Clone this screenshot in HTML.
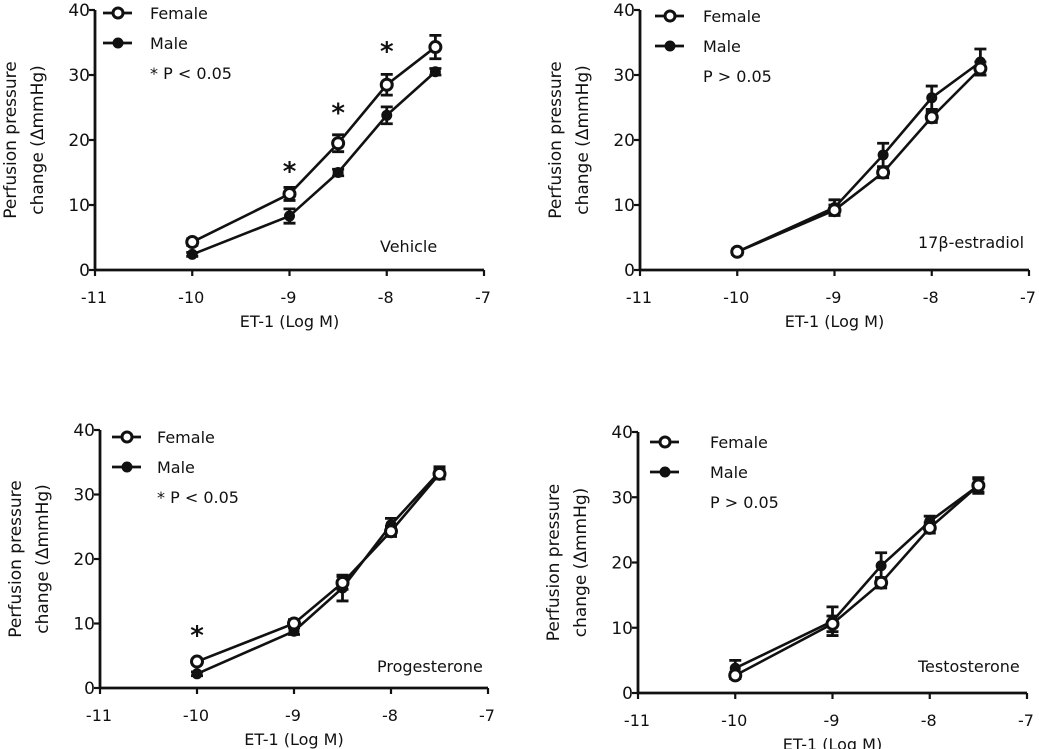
<!DOCTYPE html>
<html><head><meta charset="utf-8">
<style>
body{margin:0;background:#fff;}
svg{display:block;font-family:"DejaVu Sans","Liberation Sans",sans-serif;}
text{fill:#111;}
</style></head>
<body>
<svg id="fig" width="1039" height="749" viewBox="0 0 1039 749" xmlns="http://www.w3.org/2000/svg"></svg>
<script>
const doses = [-10, -9, -8.5, -8, -7.5];
const xTicks = [-11, -10, -9, -8, -7];
const yTicks = [0, 10, 20, 30, 40];
const vehicleFemale = [4.3, 11.7, 19.5, 28.5, 34.3];
const vehicleFemaleErr = [0.5, 1.0, 1.3, 1.6, 1.8];
const vehicleMale = [2.4, 8.3, 15.0, 23.8, 30.5];
const vehicleMaleErr = [0.3, 1.1, 0.5, 1.3, 0.5];
const vehicleStars = [null, 16, 25, 34.5, null];
const estradiolFemale = [2.8, 9.2, 15.0, 23.5, 31.0];
const estradiolFemaleErr = [0.4, 0.8, 0.8, 0.8, 1.0];
const estradiolMale = [2.8, 9.6, 17.7, 26.5, 32.0];
const estradiolMaleErr = [0.4, 1.2, 1.8, 1.8, 2.0];
const progFemale = [4.1, 10.0, 16.3, 24.3, 33.2];
const progFemaleErr = [0.4, 0.6, 1.0, 0.8, 0.8];
const progMale = [2.2, 8.8, 15.5, 25.3, 33.5];
const progMaleErr = [0.3, 0.5, 2.0, 1.0, 0.8];
const progStars = [9, null, null, null, null];
const testoFemale = [2.7, 10.6, 16.9, 25.3, 31.8];
const testoFemaleErr = [0.5, 1.2, 0.8, 0.8, 1.0];
const testoMale = [3.8, 11.0, 19.5, 26.3, 31.8];
const testoMaleErr = [1.2, 2.2, 2.0, 0.8, 1.2];

const panels = [
 {name:'vehicle', x0:95, x1:484, yTop:10, yBot:270, f:vehicleFemale, fe:vehicleFemaleErr, m:vehicleMale, me:vehicleMaleErr, stars:vehicleStars, stat:'* P < 0.05', label:'Vehicle', lx:380, ly:252, legX:103, legTX:150, legY:13},
 {name:'estradiol', x0:640, x1:1029, yTop:10, yBot:270, f:estradiolFemale, fe:estradiolFemaleErr, m:estradiolMale, me:estradiolMaleErr, stars:null, stat:'P > 0.05', label:'17\u03B2-estradiol', lx:918, ly:248, legX:655, legTX:703, legY:16},
 {name:'progesterone', x0:100, x1:488, yTop:430, yBot:688, f:progFemale, fe:progFemaleErr, m:progMale, me:progMaleErr, stars:progStars, stat:'* P < 0.05', label:'Progesterone', lx:377, ly:672, legX:112, legTX:157, legY:437},
 {name:'testosterone', x0:638, x1:1027, yTop:432, yBot:693, f:testoFemale, fe:testoFemaleErr, m:testoMale, me:testoMaleErr, stars:null, stat:'P > 0.05', label:'Testosterone', lx:918, ly:672, legX:650, legTX:710, legY:442}
];
const NS='http://www.w3.org/2000/svg';
const svg=document.getElementById('fig');
function mk(tag, attrs, parent){const e=document.createElementNS(NS,tag);for(const k in attrs)e.setAttribute(k,attrs[k]);(parent||svg).appendChild(e);return e;}

panels.forEach(p=>{
 const g=mk('g',{});
 
 
 const sx=v=>p.x0+(v+11)/4*(p.x1-p.x0);
 const sy=v=>p.yBot-v/40*(p.yBot-p.yTop);
 const ya=mk('line',{x1:p.x0,y1:p.yTop,x2:p.x0,y2:p.yBot,stroke:'#111','stroke-width':2.8},g);
 
 
 const xa=mk('line',{x1:p.x0,y1:p.yBot,x2:p.x1,y2:p.yBot,stroke:'#111','stroke-width':2.8},g);
 
 
 yTicks.forEach(t=>{
  mk('line',{x1:p.x0-6,y1:sy(t),x2:p.x0,y2:sy(t),stroke:'#111','stroke-width':2.2},g);
  const tl=mk('text',{x:p.x0-5,y:sy(t)+6,'text-anchor':'end','font-size':17},g);
  tl.textContent=t;
  
  
 });
 xTicks.forEach(t=>{
  mk('line',{x1:sx(t),y1:p.yBot,x2:sx(t),y2:p.yBot+6,stroke:'#111','stroke-width':2.2},g);
  const tl=mk('text',{x:sx(t)-1,y:p.yBot+33,'text-anchor':'middle','font-size':16},g);
  tl.textContent=t;
  
  
 });
 const xt=mk('text',{x:(p.x0+p.x1)/2,y:p.yBot+57,'text-anchor':'middle','font-size':16},g);
 xt.textContent='ET-1 (Log M)';
 
 
 const cy=(p.yTop+p.yBot)/2;
 const yt1=mk('text',{x:0,y:0,'text-anchor':'middle','font-size':17,transform:`translate(${p.x0-79},${cy}) rotate(-90)`},g);
 yt1.textContent='Perfusion pressure';
 
 
 const yt2=mk('text',{x:0,y:0,'text-anchor':'middle','font-size':17,transform:`translate(${p.x0-52},${cy}) rotate(-90)`},g);
 yt2.textContent='change (\u0394mmHg)';
 
 
 [['male',p.m,p.me,true],['female',p.f,p.fe,false]].forEach(([nm,vals,errs,filled])=>{
  const pts=doses.map((d,i)=>sx(d)+','+sy(vals[i])).join(' ');
  const pl=mk('polyline',{points:pts,fill:'none',stroke:'#111','stroke-width':2.6},g);
  
  
  doses.forEach((d,i)=>{
   const x=sx(d), y=sy(vals[i]), yh=sy(vals[i]+errs[i]), yl=sy(vals[i]-errs[i]);
   const eb=mk('path',{d:`M${x},${yl}V${yh}M${x-6},${yh}H${x+6}M${x-6},${yl}H${x+6}`,stroke:'#111','stroke-width':2.8,fill:'none'},g);
   
   
   const c=mk('circle',{cx:x,cy:y,r:filled?5:5.5,fill:filled?'#111':'#fff',stroke:'#111','stroke-width':filled?1:3},g);
   
   
  });
 });
 if(p.stars){p.stars.forEach((s,i)=>{ if(s===null)return;
  const st=mk('text',{x:sx(doses[i]),y:sy(s)+14,'text-anchor':'middle','font-size':26,'font-weight':'bold'},g);
  st.textContent='*';
  
  
 });}
 [['Female',false,0],['Male',true,30]].forEach(([lab,filled,dy])=>{
  const ly=p.legY+dy;
  mk('line',{x1:p.legX,y1:ly,x2:p.legX+29,y2:ly,stroke:'#111','stroke-width':2.8},g);
  const c=mk('circle',{cx:p.legX+15,cy:ly,r:5,fill:filled?'#111':'#fff',stroke:'#111','stroke-width':filled?1:3},g);
  
  
  const t=mk('text',{x:p.legTX,y:ly+6,'font-size':16},g);
  t.textContent=lab;
  
  
 });
 const stt=mk('text',{x:p.legTX,y:p.legY+66,'font-size':16},g);
 stt.textContent=p.stat;
 
 
 const pl=mk('text',{x:p.lx,y:p.ly,'font-size':16},g);
 pl.textContent=p.label;
 
 
});
</script>
</body></html>
